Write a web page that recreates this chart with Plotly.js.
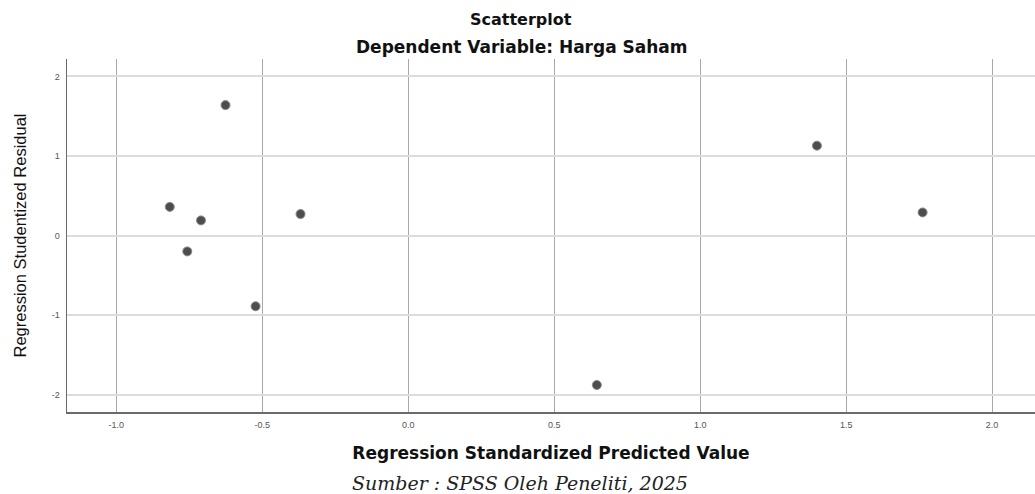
<!DOCTYPE html>
<html>
<head>
<meta charset="utf-8">
<script src="https://cdn.plot.ly/plotly-3.0.1.min.js"></script>
<style>html,body{margin:0;padding:0;background:#fff;}#chart{width:1035px;height:494px;}</style>
</head>
<body>
<div id="chart"></div>
<script>
const predicted = [-0.626, -0.817, -0.710, -0.757, -0.523, -0.369, 0.646, 1.400, 1.762];
const residual  = [1.64, 0.36, 0.19, -0.20, -0.89, 0.27, -1.88, 1.13, 0.29];
const xTicks = [-1.0, -0.5, 0.0, 0.5, 1.0, 1.5, 2.0];
const xTickLabels = ["-1.0", "-0.5", "0.0", "0.5", "1.0", "1.5", "2.0"];
const yTicks = [-2, -1, 0, 1, 2];
const yTickLabels = ["-2", "-1", "0", "1", "2"];
const titleText = "Scatterplot";
const subtitleText = "Dependent Variable: Harga Saham";
const xTitle = "Regression Standardized Predicted Value";
const yTitle = "Regression Studentized Residual";
const sourceText = "Sumber : SPSS Oleh Peneliti, 2025";

const W = 1035, H = 494, ML = 67, MR = 0, MT = 59, MB = 82;
const PW = W - ML - MR, PH = H - MT - MB;
const px = x => (x - ML) / PW;
const py = y => (H - MB - y) / PH;

const trace = {
  x: predicted, y: residual, type: 'scatter', mode: 'markers',
  marker: {size: 9, color: '#4d4d4d', line: {color: '#8a8a8a', width: 1}},
  hoverinfo: 'none', showlegend: false
};

const boldFont = 'DejaVu Sans, Liberation Sans, Arial, sans-serif';

const layout = {
  width: W, height: H,
  margin: {l: ML, r: MR, t: MT, b: MB},
  paper_bgcolor: '#ffffff', plot_bgcolor: '#ffffff',
  font: {family: 'Liberation Sans, Arial, sans-serif', color: '#000'},
  xaxis: {
    range: [-1.169, 2.147], tickvals: xTicks, ticktext: xTickLabels,
    showgrid: true, gridcolor: '#a8a8a8', gridwidth: 1,
    zeroline: false, showline: true, linecolor: '#6a6a6a', linewidth: 1.5,
    ticks: '', ticklabelstandoff: 4,
    tickfont: {size: 9, color: '#555'},
    title: {text: '<b>' + xTitle + '</b>', font: {size: 17, color: '#111', family: boldFont}, standoff: 18},
    fixedrange: true
  },
  yaxis: {
    range: [-2.22, 2.22], tickvals: yTicks, ticktext: yTickLabels,
    showgrid: true, gridcolor: '#dcdcdc', gridwidth: 2,
    zeroline: false, showline: true, linecolor: '#6a6a6a', linewidth: 1.5,
    ticks: '', ticklabelstandoff: 4,
    tickfont: {size: 9, color: '#555'},
    title: {text: yTitle, font: {size: 16.5, color: '#111', family: 'Liberation Sans, Arial, sans-serif'}, standoff: 21},
    fixedrange: true
  },
  annotations: [
    {text: '<b>' + titleText + '</b>', xref: 'paper', yref: 'paper', x: px(521), y: py(19.5), xanchor: 'center', yanchor: 'middle', showarrow: false, font: {size: 16, color: '#111', family: boldFont}},
    {text: '<b>' + subtitleText + '</b>', xref: 'paper', yref: 'paper', x: px(522), y: py(47), xanchor: 'center', yanchor: 'middle', showarrow: false, font: {size: 17, color: '#111', family: boldFont}},
    {text: '<i>' + sourceText + '</i>', xref: 'paper', yref: 'paper', x: px(520), y: py(483), xanchor: 'center', yanchor: 'middle', showarrow: false, font: {size: 19, color: '#222', family: 'DejaVu Serif, Liberation Serif, serif'}}
  ]
};

Plotly.newPlot('chart', [trace], layout, {displayModeBar: false, staticPlot: true});
</script>
</body>
</html>
